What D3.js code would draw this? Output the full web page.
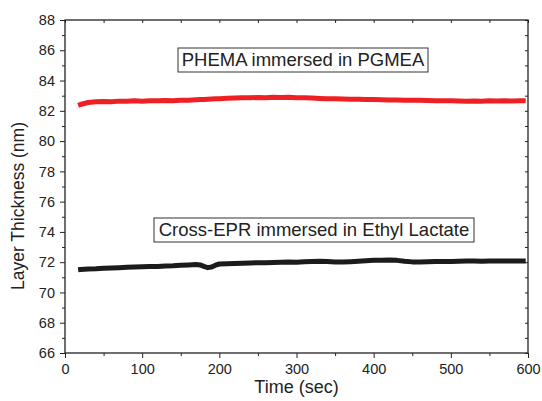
<!DOCTYPE html>
<html>
<head>
<meta charset="utf-8">
<script src="https://cdn.jsdelivr.net/npm/d3@7"></script>
<style>
  body { margin: 0; background: #fff; }
  text { font-family: "Liberation Sans", Arial, sans-serif; fill: #222; }
</style>
</head>
<body>
<div id="chart-area"></div>
<script>
// DATA
const TIME = [17, 20, 30, 40, 50, 60, 70, 80, 90, 100, 110, 120, 130, 140, 150, 160, 170, 175, 180, 185, 190, 195,
  200, 210, 220, 230, 240, 250, 260, 270, 280, 290, 300, 310, 320, 330, 340, 350, 360, 370, 380, 390,
  400, 410, 420, 430, 440, 450, 460, 470, 480, 490, 500, 510, 520, 530, 540, 550, 560, 570, 580, 590, 597]

const PHEMA = [82.36, 82.42, 82.55, 82.6, 82.62, 82.6, 82.64, 82.63, 82.66, 82.64, 82.67, 82.66, 82.68, 82.66, 82.7,
  82.7, 82.73, 82.74, 82.75, 82.77, 82.78, 82.79,
  82.8, 82.83, 82.85, 82.87, 82.86, 82.88, 82.87, 82.9, 82.88, 82.89, 82.87, 82.86, 82.84, 82.82, 82.8, 82.79,
  82.78, 82.77, 82.76, 82.75, 82.74, 82.73, 82.72, 82.72, 82.7, 82.69, 82.7, 82.68, 82.67, 82.66, 82.66, 82.65,
  82.64, 82.65, 82.64, 82.66, 82.65, 82.66, 82.65, 82.67, 82.66]

const EPR = [71.5, 71.52, 71.55, 71.56, 71.6, 71.62, 71.64, 71.66, 71.68, 71.7, 71.71, 71.72, 71.74, 71.76, 71.8,
  71.82, 71.85, 71.82, 71.72, 71.64, 71.68, 71.8,
  71.88, 71.9, 71.92, 71.93, 71.95, 71.96, 71.97, 71.98, 72.0, 72.02, 72.0, 72.03, 72.05, 72.06, 72.04, 72.02,
  72.01, 72.03, 72.06, 72.1, 72.12, 72.13, 72.15, 72.12, 72.06, 72.02, 72.01, 72.03, 72.04, 72.05, 72.05, 72.06,
  72.07, 72.07, 72.06, 72.08, 72.07, 72.08, 72.07, 72.08, 72.08]

const X_TICKS = [0, 100, 200, 300, 400, 500, 600]
const X_MINOR = [50, 150, 250, 350, 450, 550]
const Y_TICKS = [66, 68, 70, 72, 74, 76, 78, 80, 82, 84, 86, 88]
const Y_MINOR = [67, 69, 71, 73, 75, 77, 79, 81, 83, 85, 87]

const LEGENDS = ["PHEMA immersed in PGMEA", "Cross-EPR immersed in Ethyl Lactate"]

// MARGINS
const MARGIN = { LEFT: 65, RIGHT: 14, TOP: 20, BOTTOM: 48 }
const AREA_WIDTH = 542
const AREA_HEIGHT = 401
const WIDTH = AREA_WIDTH - MARGIN.LEFT - MARGIN.RIGHT
const HEIGHT = AREA_HEIGHT - MARGIN.TOP - MARGIN.BOTTOM

const svg = d3.select("#chart-area").append("svg")
  .attr("width", AREA_WIDTH)
  .attr("height", AREA_HEIGHT)

const g = svg.append("g")
  .attr("transform", `translate(${MARGIN.LEFT},${MARGIN.TOP})`)

// SCALES
const x = d3.scaleLinear().domain([0, 600]).range([0, WIDTH])
const y = d3.scaleLinear().domain([66, 88]).range([HEIGHT, 0])

// axis helper: strip domain, set colours and font
function styleAxis(sel) {
  sel.select(".domain").remove()
  sel.selectAll("line").attr("stroke", "#222").attr("stroke-width", 1)
  sel.selectAll("text").attr("font-size", "14.5px").attr("fill", "#222")
}

// bottom
g.append("g").attr("transform", `translate(0,${HEIGHT})`)
  .call(d3.axisBottom(x).tickValues(X_TICKS).tickSize(5).tickPadding(6))
  .call(styleAxis)
g.append("g").attr("transform", `translate(0,${HEIGHT})`)
  .call(d3.axisBottom(x).tickValues(X_MINOR).tickSize(3).tickFormat(""))
  .call(styleAxis)

// left
g.append("g")
  .call(d3.axisLeft(y).tickValues(Y_TICKS).tickSize(5).tickPadding(5))
  .call(styleAxis)
g.append("g")
  .call(d3.axisLeft(y).tickValues(Y_MINOR).tickSize(3).tickFormat(""))
  .call(styleAxis)

// top and right: small inward ticks
g.append("g")
  .call(d3.axisBottom(x).tickValues(X_TICKS.concat(X_MINOR)).tickSize(3).tickFormat(""))
  .call(styleAxis)
g.append("g").attr("transform", `translate(${WIDTH},0)`)
  .call(d3.axisLeft(y).tickValues(Y_TICKS.concat(Y_MINOR)).tickSize(3).tickFormat(""))
  .call(styleAxis)

// frame
g.append("rect")
  .attr("width", WIDTH).attr("height", HEIGHT)
  .attr("fill", "none").attr("stroke", "#222").attr("stroke-width", 1.3)

// LINES
const line = d3.line()
  .x((d, i) => x(TIME[i]))
  .y(d => y(d))

g.append("path").datum(PHEMA)
  .attr("d", line)
  .attr("fill", "none")
  .attr("stroke", "#ee2024")
  .attr("stroke-width", 5)
  .attr("stroke-linejoin", "round")

g.append("path").datum(EPR)
  .attr("d", line)
  .attr("fill", "none")
  .attr("stroke", "#1c1a1a")
  .attr("stroke-width", 5)
  .attr("stroke-linejoin", "round")

// LEGEND BOXES (annotation labels)
const boxes = [
  { x: 113, y: 28, w: 250, h: 24 },
  { x: 89, y: 198, w: 320, h: 24 }
]
LEGENDS.forEach((label, i) => {
  const b = boxes[i]
  g.append("rect")
    .attr("x", b.x).attr("y", b.y).attr("width", b.w).attr("height", b.h)
    .attr("fill", "#fff").attr("stroke", "#333").attr("stroke-width", 1)
  g.append("text")
    .attr("x", b.x + b.w / 2).attr("y", b.y + b.h / 2 + 6)
    .attr("text-anchor", "middle")
    .attr("font-size", "18.5px")
    .text(label)
})

// AXIS TITLES
g.append("text")
  .attr("x", WIDTH / 2)
  .attr("y", HEIGHT + 40)
  .attr("text-anchor", "middle")
  .attr("font-size", "18px")
  .text("Time (sec)")

g.append("text")
  .attr("transform", "rotate(-90)")
  .attr("x", -186)
  .attr("y", -41)
  .attr("text-anchor", "middle")
  .attr("font-size", "17.5px")
  .text("Layer Thickness (nm)")
</script>
</body>
</html>
